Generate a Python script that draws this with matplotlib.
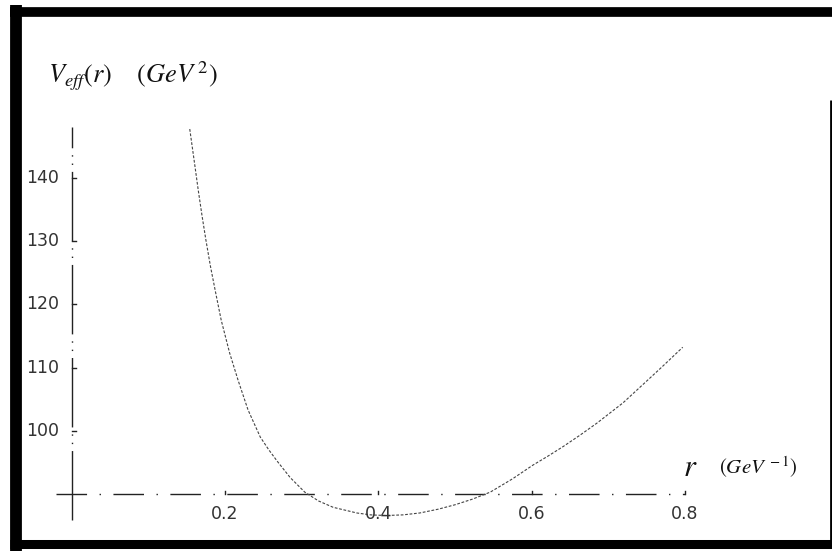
import matplotlib
matplotlib.use("Agg")
import matplotlib.pyplot as plt
from matplotlib.lines import Line2D

# Data
r_vals = [0.154, 0.160, 0.165, 0.170, 0.175, 0.181, 0.187, 0.195, 0.206,
          0.217, 0.230, 0.246, 0.257, 0.268, 0.285, 0.304, 0.322, 0.341,
          0.372, 0.390, 0.410, 0.432, 0.454, 0.478, 0.500, 0.523, 0.546,
          0.575, 0.602, 0.620, 0.641, 0.663, 0.685, 0.702, 0.719, 0.745,
          0.770, 0.797]
v_vals = [147.7, 142.5, 138.1, 134.0, 130.2, 126.0, 122.3, 117.5, 112.3,
          108.0, 103.3, 99.0, 97.0, 95.2, 92.6, 90.3, 88.9, 87.9,
          87.0, 86.7, 86.6, 86.7, 87.0, 87.6, 88.3, 89.2, 90.3,
          92.4, 94.6, 95.9, 97.5, 99.3, 101.2, 102.8, 104.4, 107.3,
          110.1, 113.2]
x_ticks = [0.2, 0.4, 0.6, 0.8]
x_tick_labels = ["0.2", "0.4", "0.6", "0.8"]
y_ticks = [100, 110, 120, 130, 140]
y_tick_labels = ["100", "110", "120", "130", "140"]
y_label = r"$V_{eff}(r)\quad\ (GeV^{\,2})$"
x_label_r = r"$r$"
x_label_unit = r"$(GeV^{\,-1})$"

plt.rcParams["mathtext.fontset"] = "stix"

fig = plt.figure(figsize=(8.32, 5.51), dpi=100)
ax = fig.add_axes([0, 0, 1, 1])
ax.set_xlim(-0.0935, 0.9917)
ax.set_ylim(80.99, 168.1)
for s in ax.spines.values():
    s.set_visible(False)
ax.set_xticks([])
ax.set_yticks([])
ax.patch.set_alpha(0)

# axes (broken, scanned look)
ax.plot([0, 0], [85.9, 148.0], color="#222222", lw=1.0,
        linestyle=(0, (50, 5, 1, 5, 1, 5)), solid_capstyle="butt")
ax.plot([-0.02, 0.8], [90, 90], color="#222222", lw=1.0,
        linestyle=(0, (22, 9, 1, 9)), solid_capstyle="butt")

# ticks
for yt, lab in zip(y_ticks, y_tick_labels):
    ax.plot([0, 0.005], [yt, yt], color="#222222", lw=1.0)
    ax.text(-0.017, yt, lab, ha="right", va="center", fontsize=12.5,
            family="DejaVu Sans", color="#333333")
for xt, lab in zip(x_ticks, x_tick_labels):
    ax.plot([xt, xt], [90, 90.5], color="#222222", lw=1.0)
    ax.text(xt, 86.8, lab, ha="center", va="center", fontsize=12.5,
            family="DejaVu Sans", color="#333333")

# curve
ax.plot(r_vals, v_vals, color="#444444", lw=0.8, linestyle=(0, (2.5, 1.5)))

# labels
fig.text(48 / 832, 1 - 76 / 551, y_label, fontsize=19, ha="left", va="center",
         color="#111111")
fig.text(683 / 832, 1 - 467 / 551, x_label_r, fontsize=22, ha="left", va="center",
         color="#111111")
fig.text(719 / 832, 1 - 467 / 551, x_label_unit, fontsize=15, ha="left", va="center",
         color="#111111")

# scanned frame border
W, H = 832, 551
def fline(x0, y0, x1, y1, lw):
    fig.add_artist(Line2D([x0 / W, x1 / W], [1 - y0 / H, 1 - y1 / H],
                          color="black", lw=lw, solid_capstyle="butt",
                          transform=fig.transFigure))
fline(16, 5, 16, 551, 8.5)     # left
fline(10, 12, 832, 12, 7.0)    # top
fline(10, 544, 832, 544, 6.5)  # bottom
fline(830.5, 100, 830.5, 540, 2.0)  # right

fig.savefig("out.png", dpi=100)
